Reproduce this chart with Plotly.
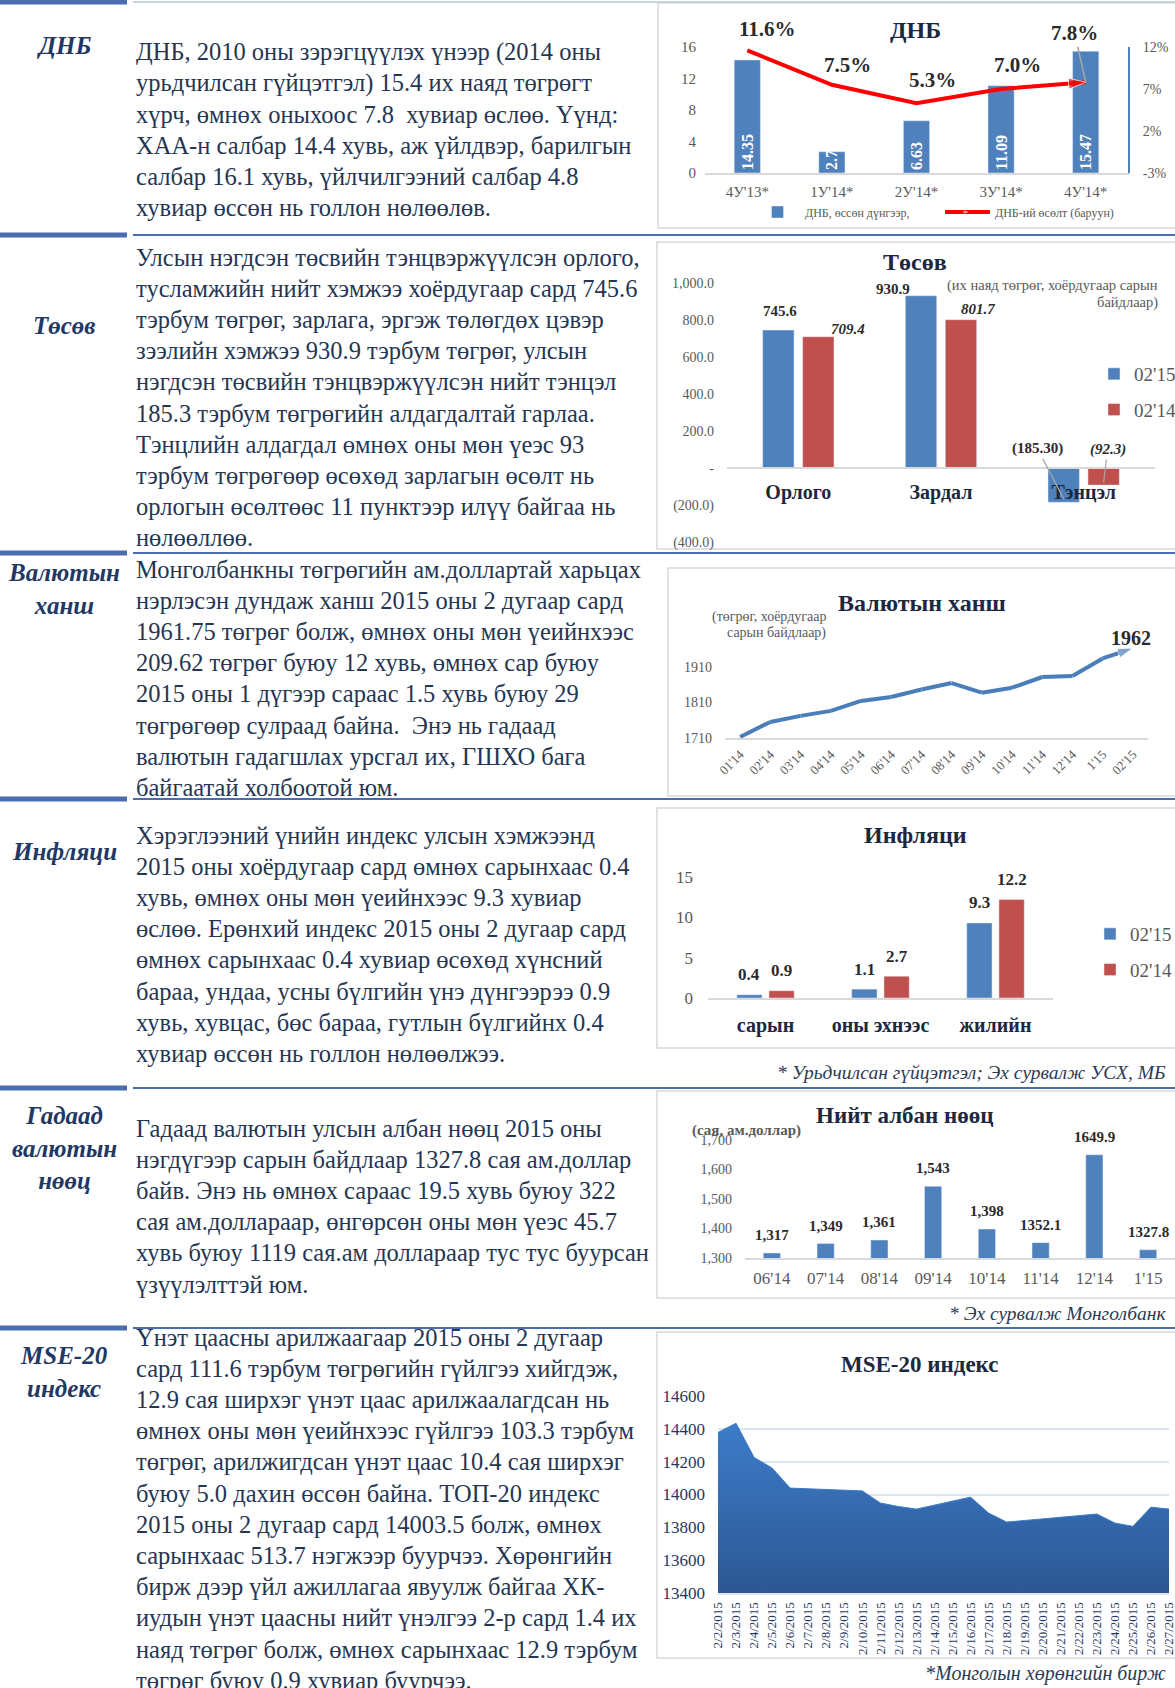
import plotly.graph_objects as go

W, H = 1175, 1688
def X(px): return px / W
def Y(py): return 1 - py / H

FONT = "Liberation Serif"
NAVY = "#1f3864"
TEXT = "#253653"
TITLE = "#1c2740"
GRAY = "#595959"
LBL = "#2b2b2b"
BLUE = "#4f81bd"
RED = "#c0504d"
AXIS = "#d9d9d9"

# ---------------- data ----------------
gdp_cats = ["4У'13*", "1У'14*", "2У'14*", "3У'14*", "4У'14*"]
gdp_values = [14.35, 2.7, 6.63, 11.09, 15.47]
gdp_growth = [11.6, 7.5, 5.3, 7.0, 7.8]
gdp_right_ticks = [-3, 2, 7, 12]

budget_cats = ["Орлого", "Зардал", "Тэнцэл"]
budget_2015 = [745.6, 930.9, -185.3]
budget_2014 = [709.4, 801.7, -92.3]
budget_tickvals = [1000, 800, 600, 400, 200, 0, -200, -400]
budget_ticktext = ["1,000.0", "800.0", "600.0", "400.0", "200.0", "-", "(200.0)", "(400.0)"]

fx_months = ["01'14", "02'14", "03'14", "04'14", "05'14", "06'14", "07'14",
             "08'14", "09'14", "10'14", "11'14", "12'14", "1'15", "02'15"]
fx_rates = [1713, 1755, 1772, 1786, 1814, 1825, 1846, 1864, 1837, 1851, 1881, 1884, 1933, 1962]

infl_cats = ["сарын", "оны эхнээс", "жилийн"]
infl_2015 = [0.4, 1.1, 9.3]
infl_2014 = [0.9, 2.7, 12.2]

res_months = ["06'14", "07'14", "08'14", "09'14", "10'14", "11'14", "12'14", "1'15"]
res_values = [1317, 1349, 1361, 1543, 1398, 1352.1, 1649.9, 1327.8]

mse_dates = ["2/2/2015", "2/3/2015", "2/4/2015", "2/5/2015", "2/6/2015", "2/7/2015",
             "2/8/2015", "2/9/2015", "2/10/2015", "2/11/2015", "2/12/2015", "2/13/2015",
             "2/14/2015", "2/15/2015", "2/16/2015", "2/17/2015", "2/18/2015", "2/19/2015",
             "2/20/2015", "2/21/2015", "2/22/2015", "2/23/2015", "2/24/2015", "2/25/2015",
             "2/26/2015", "2/27/2015"]
mse_values = [14378, 14434, 14226, 14161, 14039, None, None, 14028, 14022, 13948,
              13927, 13911, None, None, 13984, 13887, 13832, None, None, None, None,
              13881, 13826, 13806, 13923, 13911]

sections = [
    ("ДНБ", [
        "ДНБ, 2010 оны зэрэгцүүлэх үнээр (2014 оны",
        "урьдчилсан гүйцэтгэл) 15.4 их наяд төгрөгт",
        "хүрч, өмнөх оныхоос 7.8  хувиар өслөө. Үүнд:",
        "ХАА-н салбар 14.4 хувь, аж үйлдвэр, барилгын",
        "салбар 16.1 хувь, үйлчилгээний салбар 4.8",
        "хувиар өссөн нь голлон нөлөөлөв."]),
    ("Төсөв", [
        "Улсын нэгдсэн төсвийн тэнцвэржүүлсэн орлого,",
        "тусламжийн нийт хэмжээ хоёрдугаар сард 745.6",
        "тэрбум төгрөг, зарлага, эргэж төлөгдөх цэвэр",
        "зээлийн хэмжээ 930.9 тэрбум төгрөг, улсын",
        "нэгдсэн төсвийн тэнцвэржүүлсэн нийт тэнцэл",
        "185.3 тэрбум төгрөгийн алдагдалтай гарлаа.",
        "Тэнцлийн алдагдал өмнөх оны мөн үеэс 93",
        "тэрбум төгрөгөөр өсөхөд зарлагын өсөлт нь",
        "орлогын өсөлтөөс 11 пунктээр илүү байгаа нь",
        "нөлөөллөө."]),
    ("Валютын<br>ханш", [
        "Монголбанкны төгрөгийн ам.доллартай харьцах",
        "нэрлэсэн дундаж ханш 2015 оны 2 дугаар сард",
        "1961.75 төгрөг болж, өмнөх оны мөн үеийнхээс",
        "209.62 төгрөг буюу 12 хувь, өмнөх сар буюу",
        "2015 оны 1 дүгээр сараас 1.5 хувь буюу 29",
        "төгрөгөөр сулраад байна.  Энэ нь гадаад",
        "валютын гадагшлах урсгал их, ГШХО бага",
        "байгаатай холбоотой юм."]),
    ("Инфляци", [
        "Хэрэглээний үнийн индекс улсын хэмжээнд",
        "2015 оны хоёрдугаар сард өмнөх сарынхаас 0.4",
        "хувь, өмнөх оны мөн үеийнхээс 9.3 хувиар",
        "өслөө. Ерөнхий индекс 2015 оны 2 дугаар сард",
        "өмнөх сарынхаас 0.4 хувиар өсөхөд хүнсний",
        "бараа, ундаа, усны бүлгийн үнэ дүнгээрээ 0.9",
        "хувь, хувцас, бөс бараа, гутлын бүлгийнх 0.4",
        "хувиар өссөн нь голлон нөлөөлжээ."]),
    ("Гадаад<br>валютын<br>нөөц", [
        "Гадаад валютын улсын албан нөөц 2015 оны",
        "нэгдүгээр сарын байдлаар 1327.8 сая ам.доллар",
        "байв. Энэ нь өмнөх сараас 19.5 хувь буюу 322",
        "сая ам.доллараар, өнгөрсөн оны мөн үеэс 45.7",
        "хувь буюу 1119 сая.ам доллараар тус тус буурсан",
        "үзүүлэлттэй юм."]),
    ("MSE-20<br>индекс", [
        "Үнэт цаасны арилжаагаар 2015 оны 2 дугаар",
        "сард 111.6 тэрбум төгрөгийн гүйлгээ хийгдэж,",
        "12.9 сая ширхэг үнэт цаас арилжаалагдсан нь",
        "өмнөх оны мөн үеийнхээс гүйлгээ 103.3 тэрбум",
        "төгрөг, арилжигдсан үнэт цаас 10.4 сая ширхэг",
        "буюу 5.0 дахин өссөн байна. ТОП-20 индекс",
        "2015 оны 2 дугаар сард 14003.5 болж, өмнөх",
        "сарынхаас 513.7 нэгжээр буурчээ. Хөрөнгийн",
        "бирж дээр үйл ажиллагаа явуулж байгаа ХК-",
        "иудын үнэт цаасны нийт үнэлгээ 2-р сард 1.4 их",
        "наяд төгрөг болж, өмнөх сарынхаас 12.9 тэрбум",
        "төгрөг буюу 0.9 хувиар буурчээ."]),
]

# ---------------- layout geometry (px) ----------------
section_first_line = [52, 257, 569, 835, 1128, 1337]
section_label_y = [45, 325, 589, 851, 1148, 1372]
LINE_STEP = 31.2
separators = [2, 235, 553, 799, 1088, 1328]
boxes = [(658, 3, 228), (657, 242, 549), (668, 568, 796), (657, 808, 1048),
         (657, 1091, 1298), (657, 1332, 1658)]

fig = go.Figure()
annotations = []
shapes = []

def ann(text, px, py, size, color=TEXT, xanchor="center", bold=False, italic=False, yanchor="middle"):
    annotations.append(dict(
        text=text, x=X(px), y=Y(py), xref="paper", yref="paper", showarrow=False,
        xanchor=xanchor, yanchor=yanchor,
        font=dict(family=FONT, size=size, color=color,
                  weight="bold" if bold else "normal",
                  style="italic" if italic else "normal")))

# text sections
for (label, lines), y0, ly in zip(sections, section_first_line, section_label_y):
    ann(label, 64, ly, 25, color=NAVY, bold=True, italic=True)
    for i, line in enumerate(lines):
        ann(line, 134, y0 + i * LINE_STEP, 24.5, xanchor="left")

# separators
for sy in separators:
    shapes.append(dict(type="line", xref="paper", yref="paper", x0=0, x1=X(127),
                       y0=Y(sy), y1=Y(sy), line=dict(color="#4a6db0", width=5)))
    shapes.append(dict(type="line", xref="paper", yref="paper", x0=X(133), x1=1,
                       y0=Y(sy), y1=Y(sy),
                       line=dict(color="#4a6db0" if sy > 5 else "#c9d3e6", width=2)))

# chart boxes
for bx, by0, by1 in boxes:
    shapes.append(dict(type="rect", xref="paper", yref="paper", x0=X(bx), x1=X(1185),
                       y0=Y(by1), y1=Y(by0), line=dict(color=AXIS, width=1.5),
                       fillcolor="rgba(0,0,0,0)", layer="below"))

# ---------------- ДНБ ----------------
fig.add_trace(go.Bar(
    x=gdp_cats, y=gdp_values, xaxis="x", yaxis="y", width=0.31,
    marker=dict(color=BLUE), name="ДНБ, өссөн дүнгээр,", legend="legend",
    text=[str(v) for v in gdp_values], textposition="inside", textangle=-90,
    insidetextanchor="start", constraintext="none",
    textfont=dict(family=FONT, size=16, color="white", weight="bold")))
fig.add_trace(go.Scatter(
    x=gdp_cats, y=gdp_growth, xaxis="x", yaxis="y2", mode="lines+markers",
    line=dict(color="#ff0000", width=4), name="ДНБ-ий өсөлт (баруун)", legend="legend",
    marker=dict(symbol="arrow", size=[0, 0, 0, 0, 18], angleref="previous", color="#ff0000")))
gdp_offsets = [(20, 21, False), (16, 20, False), (16, 23, False), (16, 24, False), (-11, 49, True)]
for i, (v, (dx, dy, arrow)) in enumerate(zip(gdp_growth, gdp_offsets)):
    a = dict(text=f"{v:.1f}%", x=i, y=v, xref="x", yref="y2",
             font=dict(family=FONT, size=21, color=LBL, weight="bold"))
    if arrow:
        a.update(showarrow=True, ax=dx, ay=-dy, arrowhead=0, arrowwidth=1.5, arrowcolor="#a6a6a6")
    else:
        a.update(showarrow=False, xshift=dx, yshift=dy)
    annotations.append(a)
ann("ДНБ", 915, 30, 24, color=TITLE, bold=True)

# ---------------- Төсөв ----------------
fig.add_trace(go.Bar(
    x=[0, 1, 2], y=budget_2015, xaxis="x3", yaxis="y3", width=0.22, offset=-0.25,
    marker=dict(color=BLUE), name="02'15", legend="legend2", legendgroup="a"))
fig.add_trace(go.Bar(
    x=[0, 1, 2], y=budget_2014, xaxis="x3", yaxis="y3", width=0.22, offset=0.03,
    marker=dict(color=RED), name="02'14", legend="legend2", legendgroup="b"))
b15_off = [(2, 19), (-28, 7)]
b14_off = [(30, 8), (17, 11)]
for i in range(2):
    annotations.append(dict(text=f"{budget_2015[i]:.1f}", x=i - 0.14, y=budget_2015[i], xref="x3", yref="y3",
                            showarrow=False, xshift=b15_off[i][0], yshift=b15_off[i][1],
                            font=dict(family=FONT, size=15, color=LBL, weight="bold")))
    annotations.append(dict(text=f"{budget_2014[i]:.1f}", x=i + 0.14, y=budget_2014[i], xref="x3", yref="y3",
                            showarrow=False, xshift=b14_off[i][0], yshift=b14_off[i][1],
                            font=dict(family=FONT, size=15, color=LBL, weight="bold", style="italic")))
annotations.append(dict(text=f"({abs(budget_2015[2]):.2f})", x=2 - 0.14, y=budget_2015[2] * 0.9,
                        xref="x3", yref="y3", showarrow=True, ax=-26, ay=-50, arrowhead=0,
                        arrowwidth=1.2, arrowcolor="#a6a6a6",
                        font=dict(family=FONT, size=15, color=LBL, weight="bold")))
annotations.append(dict(text=f"({abs(budget_2014[2]):.1f})", x=2 + 0.14, y=budget_2014[2] * 0.85,
                        xref="x3", yref="y3", showarrow=True, ax=4, ay=-33, arrowhead=0,
                        arrowwidth=1.2, arrowcolor="#a6a6a6",
                        font=dict(family=FONT, size=15, color=LBL, weight="bold", style="italic")))
ann("Төсөв", 915, 262, 24, color=TITLE, bold=True)
ann("(их наяд төгрөг, хоёрдугаар сарын", 1160, 285, 14.5, color=GRAY, xanchor="right")
ann("байдлаар)", 1160, 302, 14.5, color=GRAY, xanchor="right")

# ---------------- Валютын ханш ----------------
fig.add_trace(go.Scatter(
    x=fx_months, y=fx_rates, xaxis="x4", yaxis="y4", mode="lines+markers", showlegend=False,
    line=dict(color="#4a7ebb", width=4),
    marker=dict(symbol="arrow", size=[0] * (len(fx_rates) - 1) + [16], angleref="previous", color="#4a7ebb")))
annotations.append(dict(text=f"{fx_rates[-1]}", x=len(fx_rates) - 1, y=fx_rates[-1], xref="x4", yref="y4",
                        showarrow=False, yshift=10, xshift=-2,
                        font=dict(family=FONT, size=20, color=LBL, weight="bold")))
ann("Валютын ханш", 922, 603, 24, color=TITLE, bold=True)
ann("(төгрөг, хоёрдугаар", 828, 617, 14, color=GRAY, xanchor="right")
ann("сарын байдлаар)", 828, 633, 14, color=GRAY, xanchor="right")

# ---------------- Инфляци ----------------
fig.add_trace(go.Bar(
    x=[0, 1, 2], y=infl_2015, xaxis="x5", yaxis="y5", width=0.22, offset=-0.25,
    marker=dict(color=BLUE), name="02'15", legend="legend3", legendgroup="c"))
fig.add_trace(go.Bar(
    x=[0, 1, 2], y=infl_2014, xaxis="x5", yaxis="y5", width=0.22, offset=0.03,
    marker=dict(color=RED), name="02'14", legend="legend3", legendgroup="d"))
for i in range(3):
    for v, dxc in ((infl_2015[i], -0.14), (infl_2014[i], 0.14)):
        annotations.append(dict(text=f"{v:.1f}", x=i + dxc, y=v, xref="x5", yref="y5",
                                showarrow=False, yshift=20,
                                font=dict(family=FONT, size=17, color=LBL, weight="bold")))
ann("Инфляци", 915, 835, 24, color=TITLE, bold=True)
ann("* Урьдчилсан гүйцэтгэл; Эх сурвалж УСХ, МБ", 1168, 1072, 19.5, color="#2b3a55",
    xanchor="right", italic=True)

# ---------------- Нийт албан нөөц ----------------
fig.add_trace(go.Bar(
    x=res_months, y=res_values, xaxis="x6", yaxis="y6", width=0.32, showlegend=False,
    marker=dict(color=BLUE)))
for i, v in enumerate(res_values):
    t = f"{v:,.0f}" if float(v).is_integer() else f"{v}"
    annotations.append(dict(text=t, x=i, y=v, xref="x6", yref="y6", showarrow=False, yshift=18,
                            font=dict(family=FONT, size=15, color=LBL, weight="bold")))
ann("Нийт албан нөөц", 905, 1115, 23, color=TITLE, bold=True)
ann("(сая, ам.доллар)", 690, 1130, 15, color=GRAY, xanchor="left", bold=True)
ann("* Эх сурвалж Монголбанк", 1168, 1313, 19.5, color="#2b3a55", xanchor="right", italic=True)

# ---------------- MSE-20 ----------------
fig.add_trace(go.Scatter(
    x=mse_dates, y=mse_values, xaxis="x7", yaxis="y7", mode="lines", connectgaps=True,
    fill="tozeroy", showlegend=False, line=dict(color="#3d7cc9", width=1),
    fillgradient=dict(type="vertical", colorscale=[[0, "#2c5793"], [1, "#3d7dcb"]],
                      start=13400, stop=14450)))
ann("MSE-20 индекс", 920, 1364, 23, color=TITLE, bold=True)
ann("*Монголын хөрөнгийн бирж", 1168, 1673, 20, color="#2b3a55", xanchor="right", italic=True)

# ---------------- axes ----------------
def xdom(a, b): return [X(a), min(1, X(b))]
def ydom(bottom, top): return [Y(bottom), Y(top)]

tick_gray = lambda s: dict(family=FONT, size=s, color=GRAY)

layout_axes = dict(
    xaxis=dict(domain=xdom(705, 1128), anchor="y", type="category", range=[-0.5, 4.5],
               showline=True, linecolor=AXIS, linewidth=1.5, ticks="", showgrid=False,
               tickfont=tick_gray(15), ticklabelstandoff=4),
    yaxis=dict(domain=ydom(173, 47), anchor="x", range=[0, 16], tickvals=[0, 4, 8, 12, 16],
               showgrid=False, zeroline=False, showline=False, tickfont=tick_gray(15),
               ticklabelstandoff=8),
    yaxis2=dict(overlaying="y", side="right", anchor="x", range=[-3, 12], tickvals=gdp_right_ticks,
                ticktext=[f"{t}%" for t in gdp_right_ticks], showgrid=False, zeroline=False,
                showline=True, linecolor=BLUE, linewidth=2, tickfont=tick_gray(14), ticklabelstandoff=10),
    xaxis3=dict(domain=xdom(727, 1155), anchor="free", position=Y(468), range=[-0.5, 2.5],
                tickvals=[0, 1, 2], ticktext=budget_cats, showline=True, linecolor=AXIS,
                linewidth=1.5, ticks="", showgrid=False, zeroline=False,
                tickfont=dict(family=FONT, size=20, color=TITLE, weight="bold"), ticklabelstandoff=6),
    yaxis3=dict(domain=ydom(542, 283), anchor="x3", range=[-400, 1000], tickvals=budget_tickvals,
                ticktext=budget_ticktext, showgrid=False, zeroline=False, tickfont=tick_gray(14),
                ticklabelstandoff=12),
    xaxis4=dict(domain=xdom(725, 1148), anchor="y4", type="category", range=[-0.5, 13.5],
                showline=True, linecolor=AXIS, linewidth=1.5, ticks="", showgrid=False,
                tickangle=-45, tickfont=tick_gray(13), ticklabelstandoff=2),
    yaxis4=dict(domain=ydom(738, 631), anchor="x4", range=[1710, 2010], tickvals=[1710, 1810, 1910],
                showgrid=False, zeroline=False, tickfont=tick_gray(14), ticklabelstandoff=12),
    xaxis5=dict(domain=xdom(708, 1053), anchor="y5", range=[-0.5, 2.5], tickvals=[0, 1, 2],
                ticktext=infl_cats, showline=True, linecolor=AXIS, linewidth=1.5, ticks="",
                showgrid=False, zeroline=False,
                tickfont=dict(family=FONT, size=20, color=TITLE, weight="bold"), ticklabelstandoff=8),
    yaxis5=dict(domain=ydom(998, 877), anchor="x5", range=[0, 15], tickvals=[0, 5, 10, 15],
                showgrid=False, zeroline=False, tickfont=tick_gray(17), ticklabelstandoff=14),
    xaxis6=dict(domain=xdom(745, 1175), anchor="y6", type="category", range=[-0.5, 7.5],
                showline=True, linecolor=AXIS, linewidth=1.5, ticks="", showgrid=False,
                tickfont=tick_gray(17), ticklabelstandoff=4),
    yaxis6=dict(domain=ydom(1258, 1140), anchor="x6", range=[1300, 1700], dtick=100,
                tickformat=",", showgrid=False, zeroline=False, tickfont=tick_gray(14),
                ticklabelstandoff=12),
    xaxis7=dict(domain=xdom(718, 1169), anchor="y7", type="category", range=[0, 25],
                showline=True, linecolor="#dce6f2", linewidth=2, ticks="", showgrid=False,
                tickangle=-90, tickfont=dict(family=FONT, size=13, color=NAVY), ticklabelstandoff=2),
    yaxis7=dict(domain=ydom(1593, 1396), anchor="x7", range=[13400, 14600], dtick=200,
                tickformat="d", showgrid=True, gridcolor="#dce6f2", gridwidth=2, zeroline=False,
                tickfont=dict(family=FONT, size=17, color=NAVY), ticklabelstandoff=12),
)
for k in layout_axes:
    layout_axes[k]["automargin"] = False

fig.update_layout(
    width=W, height=H, margin=dict(l=0, r=0, t=0, b=0, autoexpand=False),
    paper_bgcolor="white", plot_bgcolor="rgba(0,0,0,0)",
    barmode="overlay", font=dict(family=FONT, color=TEXT),
    annotations=annotations, shapes=shapes,
    legend=dict(orientation="h", x=X(750), y=Y(212), xanchor="left", yanchor="middle",
                font=dict(family=FONT, size=12, color=GRAY), bgcolor="rgba(0,0,0,0)",
                itemwidth=45, entrywidth=130, traceorder="normal"),
    legend2=dict(x=X(1094), y=Y(355), xanchor="left", yanchor="top",
                 font=dict(family=FONT, size=19, color=GRAY), bgcolor="rgba(0,0,0,0)",
                 tracegroupgap=8, itemwidth=30),
    legend3=dict(x=X(1090), y=Y(915), xanchor="left", yanchor="top",
                 font=dict(family=FONT, size=19, color=GRAY), bgcolor="rgba(0,0,0,0)",
                 tracegroupgap=8, itemwidth=30),
    **layout_axes,
)

fig.write_html("out.html", config={"displayModeBar": False},
               post_script="document.body.style.margin='0px';")
